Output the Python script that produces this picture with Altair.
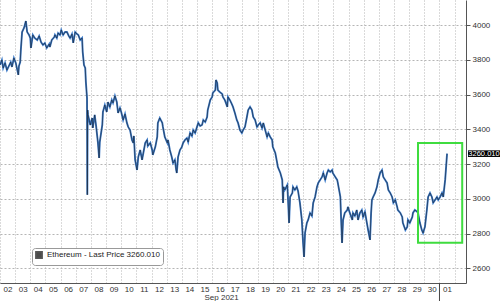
import altair as alt
import pandas as pd

# ---- data (hours since 2021-09-02 00:00, price USD) ----
hours = [0,3,5,8,11,14,17,19,22,25,
         29,30,32,33,35,38,41,43,46,48,
         49,52,55,59,62,65,68,71,74,78,
         79,82,86,87,90,92,95,97,100,103,
         106,109,111,114,116,119,122,124,127,130,
         131,133,135,136,137.8,138.3,138.8,139.4,143,146,
         147,150,152,155,157,158,162,163,166,169,
         171,174,177,179,182,185,187,190,192,195,
         198,201,203,206,209,211,212,214,217,219,
         222,225,227,230,233,234,238,241,242,246,
         249,250,253,257,258,261,265,266,269,272,
         274,277,279,280,282,285,288,290,293,296,
         298,301,304,306,309,312,314,317,320,322,
         325,328,329,333,336,337,341,342,344,345,
         348,352,353,356,360,361,364,367,369,372,
         375,377,380,383,385,388,391,393,396,399,
         401,404,407,409,412,415,417,420,423,425,
         428,431,432,436,439,440,444,447,448.3,449.1,
         451,455,456.2,457.8,459.4,463,464,467,470,472,
         475,478,480,481.5,483.1,486,488,491,494,496,
         499,502,504,507,510,512,515,518,520,523,
         526,527,531,534,535,539,540.1,541.7,543.3,546,
         550,551,554,558,559,562,565,567,570,573,
         575,578,581,583,586,587.7,589,591,594,597,
         599,602,605,607,610,613,615,618,621,623,
         626,629,630,634,637,638,642,645,646,649,
         653,654,657,661,662,665,668,670,673,676,
         678,681,684,686,689,692,694,697,700,702,
         705,706.5,708]

prices = [3770,3799,3753,3782,3741,3764,3787,3759,3810,3782,
          3713,3764,3787,3856,3960,3983,4023,3960,3943,3925,
          3868,3943,3925,3914,3937,3902,3885,3897,3868,3891,
          3874,3914,3931,3943,3925,3954,3943,3971,3943,3960,
          3960,3937,3925,3948,3897,3960,3948,3943,3914,3925,
          3845,3770,3753,3672,3580,3023,3511,3483,3425,3465,
          3408,3483,3425,3327,3235,3327,3425,3500,3540,3500,
          3557,3529,3569,3552,3592,3557,3494,3523,3500,3454,
          3488,3437,3414,3396,3339,3322,3362,3224,3166,3241,
          3281,3224,3264,3322,3339,3304,3322,3281,3253,3299,
          3356,3437,3465,3437,3414,3356,3322,3339,3281,3241,
          3206,3224,3166,3149,3241,3281,3299,3322,3339,3350,
          3327,3379,3362,3396,3379,3414,3437,3419,3425,3454,
          3442,3471,3511,3569,3586,3609,3626,3684,3667,3626,
          3615,3603,3586,3569,3529,3586,3569,3546,3529,3494,
          3454,3437,3396,3379,3396,3414,3471,3511,3529,3511,
          3471,3454,3414,3425,3437,3408,3437,3396,3356,3379,
          3356,3339,3299,3264,3206,3184,3149,3109,2977,3069,
          3051,3080,2994,2862,3011,3034,3069,3051,3069,3046,
          2977,2879,2747,2666,2804,2862,2879,2919,2902,2977,
          3011,3069,3092,3109,3126,3149,3109,3149,3166,3155,
          3166,3149,3126,3109,3092,3011,2896,2747,2879,2919,
          2936,2954,2919,2879,2919,2902,2936,2879,2919,2936,
          2896,2925,2862,2821,2764,2919,2994,3011,3034,3069,
          3109,3149,3166,3126,3109,3092,3051,3034,3011,2977,
          2994,2954,2936,2919,2896,2862,2821,2839,2879,2862,
          2896,2919,2936,2925,2919,2862,2821,2804,2839,2936,
          3011,3034,3011,2977,2994,3011,2994,3011,3034,3011,
          3109,3184,3260.01]

series_name = "Ethereum - Last Price 3260.010"
last_price = 3260.01
last_label = "3260.010"

y_ticks = [2600, 2800, 3000, 3200, 3400, 3600, 3800, 4000]

# highlighted box: start/end hours and price range
box_hours = [662, 732]
box_prices = [2747, 3322]

start = pd.Timestamp("2021-09-02 00:00")
df = pd.DataFrame({
    "t": [start + pd.Timedelta(hours=h) for h in hours],
    "price": prices,
})
df["series"] = series_name

box_df = pd.DataFrame({
    "t1": [start + pd.Timedelta(hours=box_hours[0])],
    "t2": [start + pd.Timedelta(hours=box_hours[1])],
    "p1": [box_prices[0]],
    "p2": [box_prices[1]],
})
tag_df = pd.DataFrame({"p": [last_price], "lo": [last_price - 19], "hi": [last_price + 19], "txt": [last_label]})
month_df = pd.DataFrame({"t": [pd.Timestamp("2021-10-01 00:00")]})

FONT = "Liberation Sans"

x_scale = alt.Scale(domain=[alt.DateTime(year=2021, month=9, date=2),
                            alt.DateTime(year=2021, month=10, date=2, hours=18)])
y_scale = alt.Scale(domain=[2516, 4144], nice=False, zero=False)

x_axis = alt.Axis(
    tickCount=alt.TickCount(interval="day", step=1),
    format="%d", labelOffset=7.5, ticks=False, tickSize=0, labelPadding=2,
    labelFontSize=8, labelFont=FONT, labelColor="#333",
    labelOverlap=False, labelFlush=False, labelSeparation=0, labelBound=False,
    labelExpr="month(datum.value) == 9 && date(datum.value) >= 2 ? '' : datum.label",
    grid=True, gridColor="#b5b5b5", gridDash=[1, 2], gridWidth=1,
    domain=True, domainColor="#555",
    title="Sep 2021", titleFont=FONT, titleFontSize=8, titleFontWeight="normal", titleColor="#333",
    titleAnchor="start", titleAlign="left", titleX=204, titleY=14, titleBaseline="middle",
)
y_axis = alt.Axis(
    orient="right", values=y_ticks, format="d", tickSize=4, tickColor="#555", labelPadding=2,
    labelFontSize=8, labelFont=FONT, labelColor="#333",
    grid=True, gridColor="#b5b5b5", gridDash=[2, 2], gridWidth=1,
    domain=True, domainColor="#555", title=None,
)

base = alt.Chart(df)
blue = base.mark_line(color="#3f7cc9", strokeWidth=1.9).encode(
    x=alt.X("t:T", scale=x_scale, axis=x_axis),
    y=alt.Y("price:Q", scale=y_scale, axis=y_axis),
)
black = base.mark_line(strokeWidth=0.7, opacity=0.7).encode(
    x="t:T", y="price:Q",
    color=alt.Color("series:N", scale=alt.Scale(range=["#111111"]),
                    legend=alt.Legend(orient="none", legendX=32, legendY=248, title=None,
                                      symbolType="square", symbolSize=40, symbolFillColor="#000",
                                      symbolStrokeColor="#000", labelFont=FONT, labelFontSize=8,
                                      labelColor="#222", padding=3, cornerRadius=3,
                                      strokeColor="#999", fillColor="white")),
)
box = alt.Chart(box_df).mark_rect(fillOpacity=0, stroke="#3fdc3f", strokeWidth=2).encode(
    x="t1:T", x2="t2:T", y="p1:Q", y2="p2:Q")
tag = alt.Chart(tag_df).mark_rect(color="#000").encode(
    x=alt.value(468), x2=alt.value(500), y="lo:Q", y2="hi:Q")
tag_txt = alt.Chart(tag_df).mark_text(color="white", align="center", baseline="middle",
                                      font=FONT, fontSize=7.5).encode(
    x=alt.value(484), y="p:Q", text="txt:N")
month_rule = alt.Chart(month_df).mark_rule(color="#444", strokeWidth=1).encode(
    x="t:T", y=alt.value(283), y2=alt.value(301))

chart = alt.layer(blue, black, box, tag, tag_txt, month_rule).properties(
    width=466, height=283,
    autosize=alt.AutoSizeParams(type="none"),
    padding={"left": 0, "top": 0, "right": 34, "bottom": 18},
    background="white",
).configure_view(stroke=None)

chart.save("out.html", embed_options={"renderer": "svg", "actions": False})
